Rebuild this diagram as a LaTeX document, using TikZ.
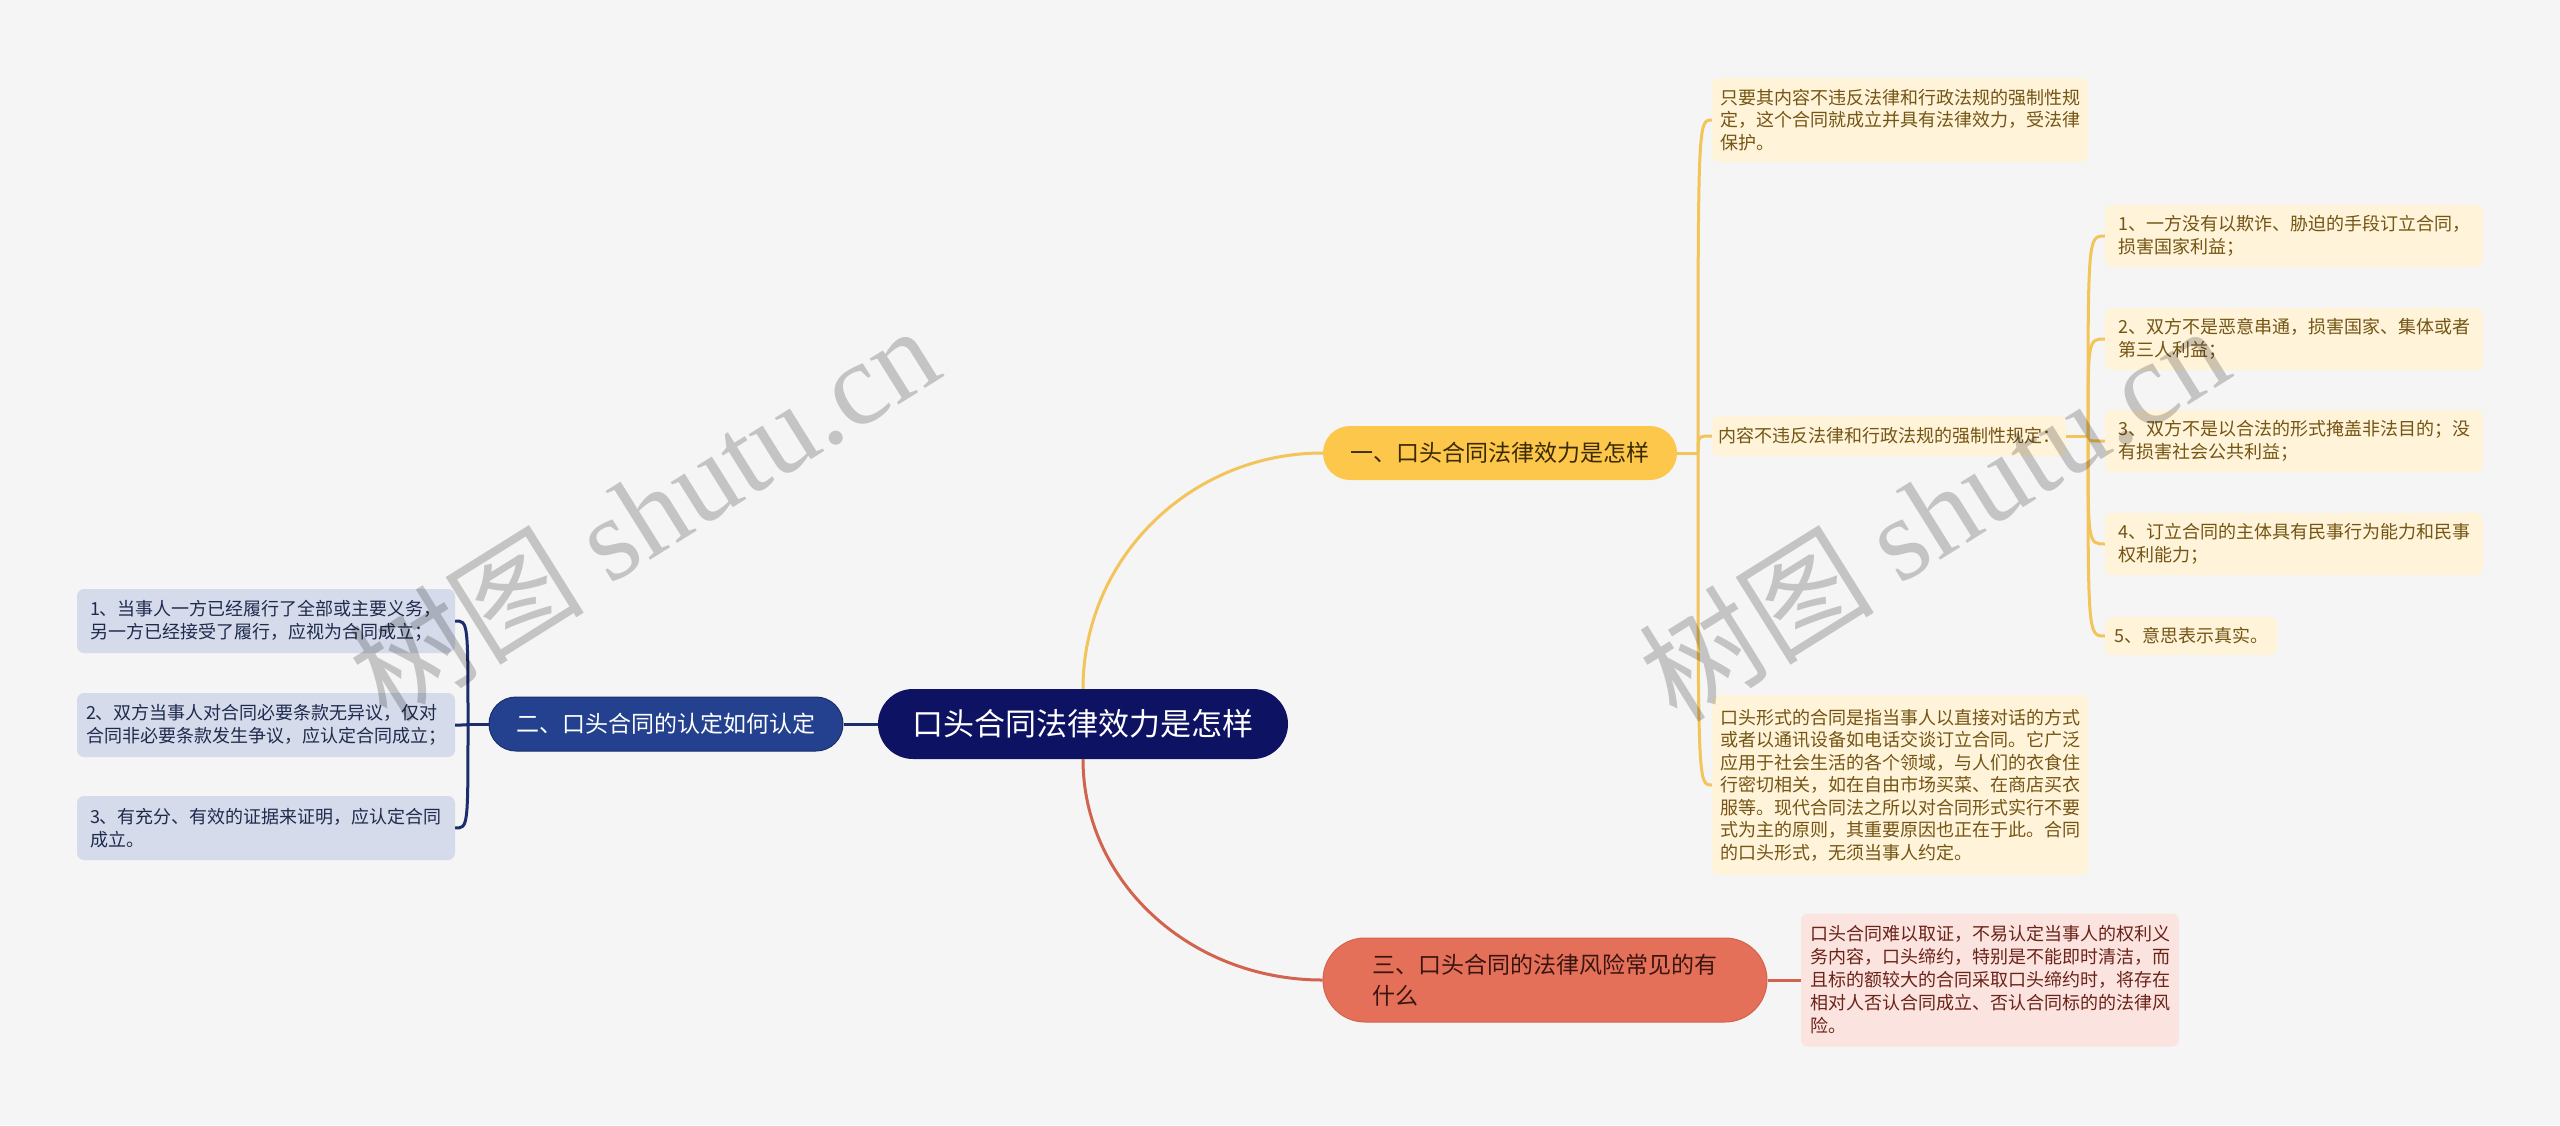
\documentclass[tikz,border=0pt]{standalone}
\usepackage{fontspec}
\newfontfamily\cjk{Noto Sans CJK SC}
\newfontfamily\wmserif{Liberation Serif}
\definecolor{bg}{HTML}{F5F5F5}
\definecolor{rootc}{HTML}{0E1262}
\definecolor{yfill}{HTML}{FCC74A}
\definecolor{ytext}{HTML}{3B2A05}
\definecolor{yline}{HTML}{F2C45A}
\definecolor{yleaf}{HTML}{FFF3D9}
\definecolor{yleaftext}{HTML}{745514}
\definecolor{bfill}{HTML}{24418F}
\definecolor{bline}{HTML}{1B2D6B}
\definecolor{bleaf}{HTML}{D5DBEB}
\definecolor{bleaftext}{HTML}{1F2B4D}
\definecolor{rfill}{HTML}{E4705A}
\definecolor{rtext}{HTML}{3A1510}
\definecolor{rline}{HTML}{D2644F}
\definecolor{rleaf}{HTML}{FBE4DF}
\definecolor{rleaftext}{HTML}{6B2218}
\tikzset{
  rootnode/.style={fill=rootc, text=white, rounded corners=35pt, minimum width=410pt, minimum height=70pt, inner sep=0pt, font=\cjk\fontsize{31}{36}\selectfont},
  ybranch/.style={fill=yfill, text=ytext, rounded corners=27pt, minimum width=354pt, minimum height=54pt, inner sep=0pt, font=\cjk\fontsize{23}{28}\selectfont},
  bbranch/.style={fill=bfill, draw=bline, line width=1pt, text=white, rounded corners=27pt, minimum width=354pt, minimum height=54pt, inner sep=0pt, font=\cjk\fontsize{23}{28}\selectfont},
  rbranch/.style={fill=rfill, draw=rline, line width=1pt, text=rtext, rounded corners=42pt, minimum width=444pt, minimum height=84pt, inner sep=0pt, align=left, font=\cjk\fontsize{23}{31}\selectfont},
  leafbase/.style={rounded corners=7pt, inner sep=0pt, align=left, font=\cjk\fontsize{18}{22.5}\selectfont},
  yleafnode/.style={leafbase, fill=yleaf, text=yleaftext},
  bleafnode/.style={leafbase, fill=bleaf, text=bleaftext},
  rleafnode/.style={leafbase, fill=rleaf, text=rleaftext, font=\cjk\fontsize{18}{23}\selectfont},
  yconn/.style={draw=yline, line width=3pt},
  bconn/.style={draw=bline, line width=3pt},
  rconn/.style={draw=rline, line width=3pt},
  wmark/.style={text=black, text opacity=0.2, inner sep=0pt, font=\cjk\fontsize{118}{128}\selectfont}
}
\begin{document}
\begin{tikzpicture}[x=1pt,y=-1pt]
\fill[bg] (0,0) rectangle (2560,1125);
\useasboundingbox (0,0) rectangle (2560,1125);

% main nodes
\node[rootnode] (root) at (1083,724) {口头合同法律效力是怎样};
\node[ybranch] (b1) at (1500,453) {一、口头合同法律效力是怎样};
\node[bbranch] (b2) at (666,724) {二、口头合同的认定如何认定};
\node[rbranch] (b3) at (1545,980) {三、口头合同的法律风险常见的有\\什么};

% branch 1 leaves
\node[yleafnode, minimum width=376pt, minimum height=84pt] (l1a) at (1900,120) {只要其内容不违反法律和行政法规的强制性规\\定，这个合同就成立并具有法律效力，受法律\\保护。};
\node[yleafnode, minimum width=354pt, minimum height=40pt] (l1b) at (1889,436) {内容不违反法律和行政法规的强制性规定：};
\node[yleafnode, minimum width=376pt, minimum height=180pt] (l1c) at (1900,785) {口头形式的合同是指当事人以直接对话的方式\\或者以通讯设备如电话交谈订立合同。它广泛\\应用于社会生活的各个领域，与人们的衣食住\\行密切相关，如在自由市场买菜、在商店买衣\\服等。现代合同法之所以对合同形式实行不要\\式为主的原则，其重要原因也正在于此。合同\\的口头形式，无须当事人约定。};

\node[yleafnode, minimum width=378pt, minimum height=62pt] (c1) at (2294,236) {1、一方没有以欺诈、胁迫的手段订立合同，\\损害国家利益；};
\node[yleafnode, minimum width=378pt, minimum height=62pt] (c2) at (2294,339) {2、双方不是恶意串通，损害国家、集体或者\\第三人利益；};
\node[yleafnode, minimum width=378pt, minimum height=62pt] (c3) at (2294,441) {3、双方不是以合法的形式掩盖非法目的；没\\有损害社会公共利益；};
\node[yleafnode, minimum width=378pt, minimum height=62pt] (c4) at (2294,544) {4、订立合同的主体具有民事行为能力和民事\\权利能力；};
\node[yleafnode, minimum width=172pt, minimum height=38pt] (c5) at (2191,636) {5、意思表示真实。};

% branch 2 leaves
\node[bleafnode, minimum width=378pt, minimum height=64pt] (ll1) at (266,621) {1、当事人一方已经履行了全部或主要义务，\\另一方已经接受了履行，应视为合同成立；};
\node[bleafnode, minimum width=378pt, minimum height=64pt] (ll2) at (266,725) {2、双方当事人对合同必要条款无异议，仅对\\合同非必要条款发生争议，应认定合同成立；};
\node[bleafnode, minimum width=378pt, minimum height=64pt] (ll3) at (266,828) {3、有充分、有效的证据来证明，应认定合同\\成立。};

% branch 3 leaf
\node[rleafnode, minimum width=378pt, minimum height=133pt] (l3) at (1990,980) {口头合同难以取证，不易认定当事人的权利义\\务内容，口头缔约，特别是不能即时清洁，而\\且标的额较大的合同采取口头缔约时，将存在\\相对人否认合同成立、否认合同标的的法律风\\险。};

% fork points
\coordinate (f1) at (1698,453);
\coordinate (f2) at (2088,436);
\coordinate (f3) at (468,724);

% connectors
\draw[yconn] (root.north) .. controls +(0,-130) and +(-133,0) .. (b1.west);
\draw[rconn] (root.south) .. controls +(0,122) and +(-133,0) .. (b3.west);
\draw[bconn] (root.west) -- (b2.east);

\draw[yconn] (b1.east) -- (f1);
\foreach \n in {l1a,l1b,l1c}
  \draw[yconn] (f1) .. controls (f1 |- \n.west) and (f1 |- \n.west) .. (\n.west);
\draw[yconn] (l1b.east) -- (f2);
\foreach \n in {c1,c2,c3,c4,c5}
  \draw[yconn] (f2) .. controls (f2 |- \n.west) and (f2 |- \n.west) .. (\n.west);

\draw[bconn] (b2.west) -- (f3);
\foreach \n in {ll1,ll2,ll3}
  \draw[bconn] (f3) .. controls (f3 |- \n.east) and (f3 |- \n.east) .. (\n.east);

\draw[rconn] (b3.east) -- (l3.west);

% watermarks
\node[wmark, rotate=32] (wm1) at (643,512) {树图 {\wmserif shutu.cn}};
\node[wmark, rotate=32] (wm2) at (1933,512) {树图 {\wmserif shutu.cn}};
\end{tikzpicture}
\end{document}
